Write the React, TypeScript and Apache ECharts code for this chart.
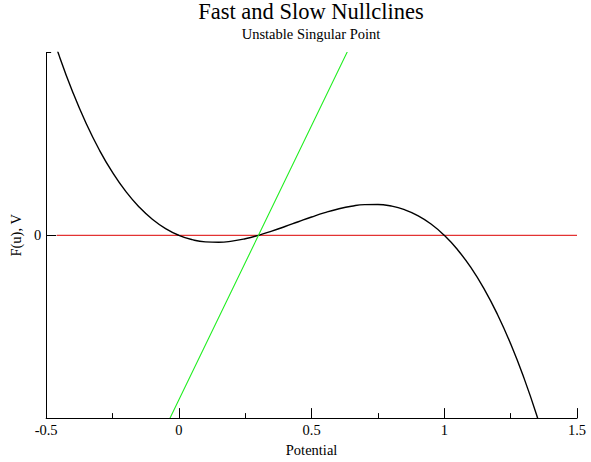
import React, { useEffect, useRef } from "react";
import * as echarts from "echarts";

const titleText = "Fast and Slow Nullclines";
const subtitleText = "Unstable Singular Point";
const xName = "Potential";
const yName = "F(u), V";

const fastU = [-0.5, -0.45, -0.4, -0.35, -0.3, -0.25, -0.2, -0.15, -0.1, -0.05, 0, 0.05, 0.1, 0.15, 0.2, 0.25, 0.3, 0.35, 0.4, 0.45, 0.5, 0.55, 0.6, 0.65, 0.7, 0.75, 0.8, 0.85, 0.9, 0.95, 1.0, 1.05, 1.1, 1.15, 1.2, 1.25, 1.3, 1.35, 1.4];
const fastF = [0.6, 0.4894, 0.392, 0.3071, 0.234, 0.1719, 0.12, 0.0776, 0.044, 0.0184, 0, -0.0119, -0.018, -0.0191, -0.016, -0.0094, 0, 0.0114, 0.024, 0.0371, 0.05, 0.0619, 0.072, 0.0796, 0.084, 0.0844, 0.08, 0.0701, 0.054, 0.0309, 0, -0.0394, -0.088, -0.1466, -0.216, -0.2969, -0.39, -0.4961, -0.616];

// Slow nullcline V (straight line through the singular point)
const slowU = [-0.04, 0.3, 0.64];
const slowV = [-0.51, 0, 0.51];

// zero reference line
const zeroU = [-0.46, 1.5];
const zeroV = [0, 0];

const xTicks = [-0.5, 0, 0.5, 1, 1.5];
const yMin = -0.5;
const yMax = 0.5;

const FONT = "Liberation Serif";

export default function App() {
  const ref = useRef<HTMLDivElement>(null);
  useEffect(() => {
    if (!ref.current) return;
    const chart = echarts.init(ref.current, null, { renderer: "svg" });
    const gridLeft = 45;
    const gridRight = 14;
    const plotCenter = gridLeft + (591 - gridLeft - gridRight) / 2;
    chart.setOption({
      animation: false,
      backgroundColor: "#ffffff",
      textStyle: { fontFamily: FONT, color: "#000" },
      graphic: [
        {
          type: "text",
          x: plotCenter,
          y: 23,
          style: {
            text: titleText,
            fontFamily: FONT,
            fontSize: 22.5,
            fill: "#000",
            textAlign: "center",
            textVerticalAlign: "bottom",
          },
        },
        {
          type: "text",
          x: plotCenter,
          y: 41,
          style: {
            text: subtitleText,
            fontFamily: FONT,
            fontSize: 14.5,
            fill: "#000",
            textAlign: "center",
            textVerticalAlign: "bottom",
          },
        },
      ],
      grid: { left: gridLeft, right: gridRight, top: 52.5, bottom: 35.5, containLabel: false },
      xAxis: {
        type: "value",
        min: xTicks[0],
        max: xTicks[xTicks.length - 1],
        interval: 0.5,
        name: xName,
        nameLocation: "middle",
        nameGap: 20,
        nameTextStyle: { fontFamily: FONT, fontSize: 14.5, color: "#000" },
        axisLine: { show: true, onZero: false, lineStyle: { color: "#000", width: 1 } },
        axisTick: { show: true, inside: true, length: 10, lineStyle: { color: "#000" } },
        minorTick: { show: true, splitNumber: 2, length: 5, lineStyle: { color: "#000" } },
        axisLabel: {
          fontFamily: FONT,
          fontSize: 14.5,
          color: "#000",
          margin: 4,
          formatter: (v: number) => String(v),
        },
        splitLine: { show: false },
        z: 10,
      },
      yAxis: [
        {
          type: "value",
          min: yMin,
          max: yMax,
          name: yName,
          nameLocation: "middle",
          nameGap: 13,
          nameRotate: 90,
          nameTextStyle: { fontFamily: FONT, fontSize: 14.5, color: "#000" },
          axisLine: { show: true, onZero: false, lineStyle: { color: "#000", width: 1 } },
          axisTick: { show: true, inside: true, length: 10, customValues: [0], lineStyle: { color: "#000" } },
          axisLabel: {
            fontFamily: FONT,
            fontSize: 14.5,
            color: "#000",
            margin: 5,
            customValues: [0],
            formatter: (v: number) => String(v),
          },
          splitLine: { show: false },
          z: 10,
        },
        {
          type: "value",
          min: yMin,
          max: yMax,
          position: "left",
          axisLine: { show: false, onZero: false },
          axisTick: { show: true, inside: true, length: 5, customValues: [yMax], lineStyle: { color: "#000" } },
          axisLabel: { show: false },
          splitLine: { show: false },
          z: 10,
        },
      ],
      series: [
        {
          type: "line",
          data: zeroU.map((u, i) => [u, zeroV[i]]),
          showSymbol: false,
          symbol: "none",
          lineStyle: { color: "#dd0000", width: 1 },
          z: 1,
        },
        {
          type: "line",
          data: fastU.map((u, i) => [u, fastF[i]]),
          smooth: true,
          showSymbol: false,
          symbol: "none",
          clip: true,
          lineStyle: { color: "#000", width: 1.4 },
          z: 2,
        },
        {
          type: "line",
          data: slowU.map((u, i) => [u, slowV[i]]),
          showSymbol: false,
          symbol: "none",
          clip: true,
          lineStyle: { color: "#22ee22", width: 1.1 },
          z: 3,
        },
      ],
    });
    return () => chart.dispose();
  }, []);
  return <div ref={ref} style={{ width: 591, height: 462, position: "absolute", left: 0, top: 0 }} />;
}
